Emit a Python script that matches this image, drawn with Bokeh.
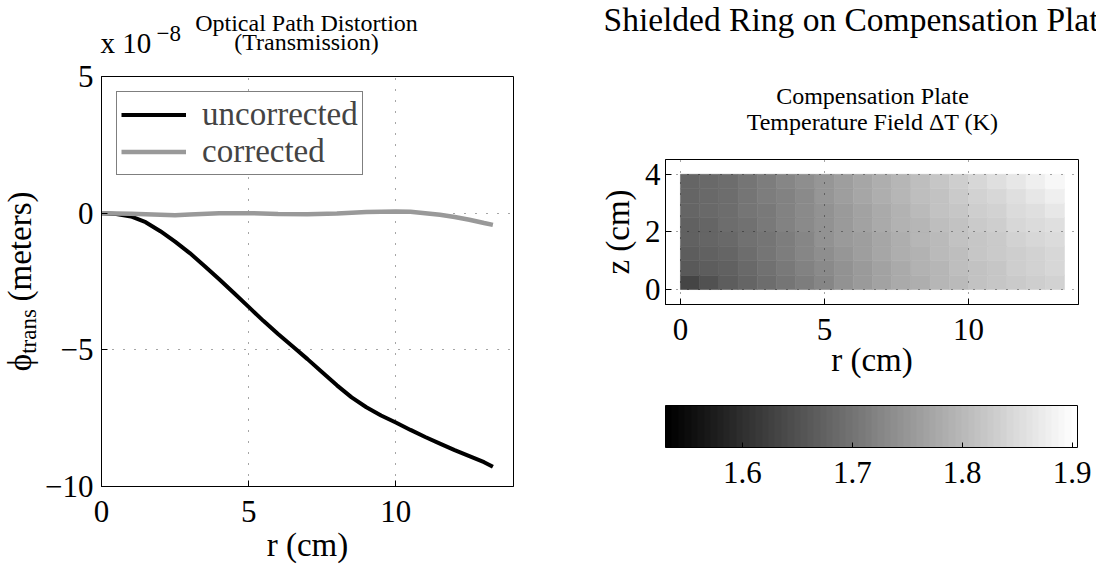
import math
from bokeh.plotting import figure
from bokeh.models import (Range1d, FixedTicker, Label, Legend, LegendItem,
                          ColumnDataSource, LinearColorMapper, ColorBar)
from bokeh.layouts import row, column
from bokeh.embed import file_html
from bokeh.resources import INLINE
from bokeh.transform import transform

FONT = "Liberation Serif"

# ---------------- data ----------------
# optical path distortion, in units of 1e-8 m
r_uncorr = [0.0, 0.5, 1.0, 1.5, 2.0, 2.5, 3.0, 3.5, 4.0, 4.5, 5.0, 5.5, 6.0, 6.5,
            7.0, 7.5, 8.0, 8.5, 9.0, 9.5, 10.0, 10.5, 11.0, 11.5, 12.0, 12.5, 13.0, 13.3]
phi_uncorr = [0.00, -0.03, -0.12, -0.33, -0.66, -1.04, -1.46, -1.93, -2.42, -2.92, -3.43,
              -3.94, -4.42, -4.88, -5.34, -5.82, -6.30, -6.74, -7.10, -7.40, -7.66, -7.93,
              -8.19, -8.43, -8.67, -8.89, -9.11, -9.28]
r_corr = [0, 1, 2, 2.5, 3, 4, 5, 6, 7, 8, 9, 10, 10.5, 11, 11.5, 12, 12.5, 13, 13.3]
phi_corr = [0.00, -0.02, -0.06, -0.08, -0.05, 0.00, 0.00, -0.03, -0.04, -0.01, 0.04, 0.06,
            0.05, 0.00, -0.06, -0.14, -0.24, -0.36, -0.43]
series_names = ["uncorrected", "corrected"]
left_xticks = [0, 5, 10]
left_yticks = [-10, -5, 0, 5]

# compensation plate temperature field dT (K)
heat_r = [0.333, 1.0, 1.667, 2.333, 3.0, 3.667, 4.333, 5.0, 5.667, 6.333, 7.0, 7.667,
          8.333, 9.0, 9.667, 10.333, 11.0, 11.667, 12.333, 13.0]
heat_z = [0.25, 0.75, 1.25, 1.75, 2.25, 2.75, 3.25, 3.75]
heat_dT = [
    [1.635, 1.652, 1.665, 1.678, 1.690, 1.702, 1.715, 1.729, 1.742, 1.754, 1.766, 1.777, 1.787, 1.796, 1.804, 1.812, 1.819, 1.826, 1.832, 1.838],
    [1.660, 1.667, 1.676, 1.686, 1.697, 1.708, 1.720, 1.733, 1.746, 1.758, 1.769, 1.780, 1.790, 1.799, 1.807, 1.815, 1.822, 1.829, 1.835, 1.841],
    [1.668, 1.674, 1.682, 1.691, 1.701, 1.712, 1.724, 1.737, 1.749, 1.761, 1.772, 1.783, 1.793, 1.802, 1.810, 1.818, 1.825, 1.832, 1.838, 1.844],
    [1.672, 1.678, 1.686, 1.695, 1.705, 1.716, 1.728, 1.741, 1.753, 1.764, 1.775, 1.786, 1.796, 1.805, 1.813, 1.821, 1.828, 1.835, 1.842, 1.848],
    [1.675, 1.681, 1.689, 1.698, 1.708, 1.719, 1.731, 1.744, 1.756, 1.767, 1.778, 1.789, 1.799, 1.808, 1.817, 1.825, 1.833, 1.841, 1.848, 1.855],
    [1.677, 1.683, 1.691, 1.700, 1.710, 1.721, 1.733, 1.746, 1.758, 1.770, 1.781, 1.792, 1.803, 1.812, 1.821, 1.830, 1.839, 1.848, 1.856, 1.864],
    [1.679, 1.685, 1.693, 1.702, 1.712, 1.723, 1.735, 1.748, 1.760, 1.772, 1.784, 1.795, 1.806, 1.816, 1.826, 1.836, 1.846, 1.856, 1.866, 1.877],
    [1.680, 1.686, 1.694, 1.703, 1.713, 1.724, 1.737, 1.750, 1.762, 1.774, 1.786, 1.798, 1.809, 1.820, 1.831, 1.842, 1.853, 1.865, 1.878, 1.892],
]
heat_dr = 0.6667
heat_dz = 0.5
right_xticks = [0, 5, 10]
right_yticks = [0, 2, 4]
cbar_ticks = [1.6, 1.7, 1.8, 1.9]
cbar_low, cbar_high = 1.53, 1.905

GRAY64 = []
for i in range(64):
    g = round(i * 255 / 63)
    GRAY64.append("#%02x%02x%02x" % (g, g, g))

TICK_SIZE = "31px"
LABEL_SIZE = "33px"


def style_axis(ax, size=TICK_SIZE):
    ax.major_label_text_font = FONT
    ax.major_label_text_font_size = size
    ax.major_label_text_color = "black"
    ax.axis_line_color = "black"
    ax.axis_line_width = 1
    ax.major_tick_line_color = "black"
    ax.major_tick_in = 6
    ax.major_tick_out = 0
    ax.minor_tick_line_color = None
    ax.axis_label_text_font = FONT
    ax.axis_label_text_font_size = LABEL_SIZE
    ax.axis_label_text_font_style = "normal"
    ax.axis_label_text_color = "black"


def style_grid(g):
    g.grid_line_color = "black"
    g.grid_line_alpha = 0.7
    g.grid_line_dash = "1 10"
    g.grid_line_width = 1


def text_fig(x0, x1, y0, y1):
    """A figure whose frame fills it; data coordinates equal page pixels."""
    p = figure(width=x1 - x0, height=y1 - y0, x_range=Range1d(x0, x1), y_range=Range1d(y1, y0),
               x_axis_type=None, y_axis_type=None, output_backend="svg",
               toolbar_location=None, min_border=0,
               min_border_left=0, min_border_right=0, min_border_top=0, min_border_bottom=0)
    p.outline_line_color = None
    p.xgrid.visible = False
    p.ygrid.visible = False
    p.border_fill_color = "white"
    p.background_fill_color = "white"
    return p


def add_text(p, txt, px, py, size, align="center", angle=0.0):
    p.add_layout(Label(x=px, y=py, text=txt, text_font=FONT, text_font_size=size,
                       text_align=align, text_baseline="middle", angle=angle,
                       text_color="black"))


# ================= LEFT BLOCK (page x 0..560) =================
ylabL = text_fig(0, 42, 0, 567)
add_text(ylabL, "\u03d5", 19, 362, LABEL_SIZE, angle=math.pi / 2)
add_text(ylabL, "trans", 28, 331, "23px", angle=math.pi / 2)
add_text(ylabL, "(meters)", 19, 246, LABEL_SIZE, angle=math.pi / 2)

topL = text_fig(42, 560, 0, 59)
add_text(topL, "Optical Path Distortion", 306, 22, "24px")
add_text(topL, "(Transmission)", 306, 41, "24px")
add_text(topL, "x 10", 100, 42, "29px", align="left")
add_text(topL, "\u22128", 156, 33, "23px", align="left")

# frame page: x 100..513, y 76..486 ; figure page: x 42..560, y 59..567
pL = figure(width=518, height=508, x_range=Range1d(0.0, 14.0), y_range=Range1d(-10.0, 5.0),
            output_backend="svg", toolbar_location=None,
            min_border_left=58, min_border_right=47, min_border_top=17, min_border_bottom=81)
pL.outline_line_color = "black"
pL.border_fill_color = "white"
pL.xaxis.ticker = FixedTicker(ticks=left_xticks)
pL.yaxis.ticker = FixedTicker(ticks=left_yticks)
for ax in pL.xaxis + pL.yaxis:
    style_axis(ax)
pL.yaxis.major_label_overrides = {-10: "\u221210", -5: "\u22125"}
pL.xaxis.major_label_standoff = 14
pL.yaxis.major_label_standoff = 8
pL.xaxis.axis_label = "r (cm)"
pL.xaxis.axis_label_standoff = 2
style_grid(pL.xgrid)
style_grid(pL.ygrid)

l1 = pL.line(r_uncorr, phi_uncorr, line_color="black", line_width=4)
l2 = pL.line(r_corr, phi_corr, line_color="#999999", line_width=4.5)
leg = Legend(items=[LegendItem(label=series_names[0], renderers=[l1]),
                    LegendItem(label=series_names[1], renderers=[l2])],
             location="top_left", margin=15, padding=4, spacing=0,
             label_text_font=FONT, label_text_font_size="33px",
             label_height=37, glyph_height=37, glyph_width=65, label_standoff=16,
             border_line_color="black", border_line_width=1.5,
             background_fill_color="white", background_fill_alpha=1.0)
pL.add_layout(leg)

left_block = row(ylabL, column(topL, row(pL), spacing=0), spacing=0)

# ================= RIGHT BLOCK (page x 560..1096) =================
topR = text_fig(560, 1096, 0, 150)
add_text(topR, "Shielded Ring on Compensation Plate", 603, 19, "33.5px", align="left")
add_text(topR, "Compensation Plate", 872, 95, "24px")
add_text(topR, "Temperature Field \u0394T (K)", 872, 121, "24px")

# frame page: x 665..1078, y 159..304 ; figure page: x 560..1096, y 150..385
pR = figure(width=536, height=235, x_range=Range1d(-0.52, 13.82), y_range=Range1d(-0.52, 4.515),
            output_backend="svg", toolbar_location=None,
            min_border_left=105, min_border_right=18, min_border_top=9, min_border_bottom=81)
pR.outline_line_color = "black"
pR.border_fill_color = "white"
pR.xaxis.ticker = FixedTicker(ticks=right_xticks)
pR.yaxis.ticker = FixedTicker(ticks=right_yticks)
for ax in pR.xaxis + pR.yaxis:
    style_axis(ax)
pR.xaxis.major_label_standoff = 14
pR.yaxis.major_label_standoff = 5
pR.xaxis.axis_label = "r (cm)"
pR.xaxis.axis_label_standoff = -1
pR.yaxis.axis_label = "z (cm)"
pR.yaxis.axis_label_standoff = 6
style_grid(pR.xgrid)
style_grid(pR.ygrid)
pR.xgrid.level = "overlay"
pR.ygrid.level = "overlay"

mapper = LinearColorMapper(palette=GRAY64, low=cbar_low, high=cbar_high)
cells = dict(r=[], z=[], dT=[])
for j, zc in enumerate(heat_z):
    for i, rc in enumerate(heat_r):
        cells["r"].append(rc)
        cells["z"].append(zc)
        cells["dT"].append(heat_dT[j][i])
pR.rect(x="r", y="z", width=heat_dr, height=heat_dz, source=ColumnDataSource(cells),
        fill_color=transform("dT", mapper), line_color=transform("dT", mapper), line_width=0.6)

# colorbar, bar page: x 665..1077, y 405..447 ; figure page: x 560..1096, y 385..567
pC = figure(width=536, height=182, x_range=Range1d(0, 1), y_range=Range1d(0, 1),
            x_axis_type=None, y_axis_type=None,
            output_backend="svg", toolbar_location=None,
            min_border_left=105, min_border_right=19, min_border_top=20, min_border_bottom=120)
pC.outline_line_color = None
pC.xgrid.visible = False
pC.ygrid.visible = False
cb = ColorBar(color_mapper=mapper, orientation="horizontal", location="top_left",
              width=412, height=42, padding=0, margin=0,
              ticker=FixedTicker(ticks=cbar_ticks),
              major_label_text_font=FONT, major_label_text_font_size=TICK_SIZE,
              major_label_text_color="black",
              major_tick_line_color="black", major_tick_in=5, major_tick_out=0,
              bar_line_color="black", bar_line_width=1,
              border_line_color=None, background_fill_color=None, label_standoff=14)
pC.add_layout(cb)

right_block = column(topR, row(pR), row(pC), spacing=0)

layout = row(left_block, right_block, spacing=0)

with open("out.html", "w") as f:
    f.write(file_html(layout, INLINE))
